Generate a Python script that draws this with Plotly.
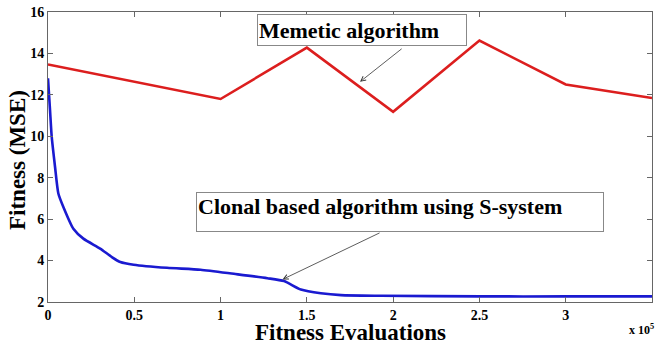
import plotly.graph_objects as go

# Data (fitness evaluations, MSE)
memetic_x = [0, 100000, 150000, 200000, 250000, 300000, 350000]
memetic_y = [13.47, 11.8, 14.28, 11.18, 14.62, 12.5, 11.85]

clonal_x = [0, 1160, 2150, 4070, 6000, 8900, 14700, 20500, 30200, 37000, 41900,
            49600, 69000, 88400, 107700, 127100, 136800, 146500, 158100, 169800,
            193000, 251000, 300000, 350000]
clonal_y = [12.8, 11.28, 9.98, 8.53, 7.24, 6.59, 5.54, 5.06, 4.58, 4.17, 3.93,
            3.80, 3.65, 3.56, 3.36, 3.15, 3.01, 2.6, 2.42, 2.33,
            2.30, 2.27, 2.27, 2.27]

x_tickvals = [0, 50000, 100000, 150000, 200000, 250000, 300000, 350000]
x_ticktext = ["0", "0.5", "1", "1.5", "2", "2.5", "3", "3.5"]
y_tickvals = [2, 4, 6, 8, 10, 12, 14, 16]

SERIF = "Liberation Serif"

fig = go.Figure()
fig.add_trace(go.Scatter(x=memetic_x, y=memetic_y, mode="lines",
                         line=dict(color="#dc1e1e", width=2.6), showlegend=False))
fig.add_trace(go.Scatter(x=clonal_x, y=clonal_y, mode="lines",
                         line=dict(color="#1a1ad0", width=2.6, shape="spline", smoothing=0.6),
                         showlegend=False))

axis_common = dict(showgrid=False, zeroline=False, showline=True, linecolor="#666666",
                   linewidth=1, mirror="ticks", ticks="inside", ticklen=5,
                   tickcolor="#666666", automargin=False,
                   tickfont=dict(family=SERIF, size=14, color="black", weight="bold"))

fig.update_xaxes(range=[0, 350000], tickvals=x_tickvals, ticktext=x_ticktext, **axis_common)
fig.update_yaxes(range=[2, 16], tickvals=y_tickvals, **axis_common)

annots = []
# text boxes
annots.append(dict(x=181700, y=15.15, xref="x", yref="y", text="Memetic algorithm",
                   showarrow=False, xanchor="center", yanchor="middle",
                   width=206, height=28, align="left", valign="middle",
                   bgcolor="white", bordercolor="#888888", borderwidth=1, borderpad=1,
                   font=dict(family=SERIF, size=22, color="black", weight="bold")))
annots.append(dict(x=204100, y=6.35, xref="x", yref="y",
                   text="Clonal based algorithm using S-system",
                   showarrow=False, xanchor="center", yanchor="middle",
                   width=404, height=36, align="left", valign="top",
                   bgcolor="white", bordercolor="#888888", borderwidth=1, borderpad=1,
                   font=dict(family=SERIF, size=22, color="black", weight="bold")))
# arrows
annots.append(dict(x=180800, y=12.63, xref="x", yref="y", ax=205800, ay=14.28,
                   axref="x", ayref="y", text="", showarrow=True, arrowhead=5,
                   arrowsize=1.2, arrowwidth=0.8, arrowcolor="#333333"))
annots.append(dict(x=135900, y=3.09, xref="x", yref="y", ax=193000, ay=5.37,
                   axref="x", ayref="y", text="", showarrow=True, arrowhead=5,
                   arrowsize=1.2, arrowwidth=0.8, arrowcolor="#333333"))
# axis titles
annots.append(dict(x=0, y=0.5, xref="paper", yref="paper", text="Fitness (MSE)",
                   showarrow=False, textangle=-90, xanchor="center", yanchor="middle",
                   xshift=-31, yshift=-3,
                   font=dict(family=SERIF, size=23, color="black", weight="bold")))
annots.append(dict(x=0.5, y=0, xref="paper", yref="paper", text="Fitness Evaluations",
                   showarrow=False, xanchor="center", yanchor="middle", yshift=-30,
                   font=dict(family=SERIF, size=23, color="black", weight="bold")))
annots.append(dict(x=1, y=0, xref="paper", yref="paper", text="x 10<sup>5</sup>",
                   showarrow=False, xanchor="right", yanchor="middle", xshift=4, yshift=-27,
                   font=dict(family=SERIF, size=12, color="black", weight="bold")))

fig.update_layout(width=659, height=342,
                  margin=dict(l=48, r=7, t=12, b=40, autoexpand=False),
                  plot_bgcolor="white", paper_bgcolor="white", annotations=annots)

fig.write_html("out.html", config={"displayModeBar": False},
               post_script="document.body.style.margin='0';document.body.style.overflow='hidden';")
